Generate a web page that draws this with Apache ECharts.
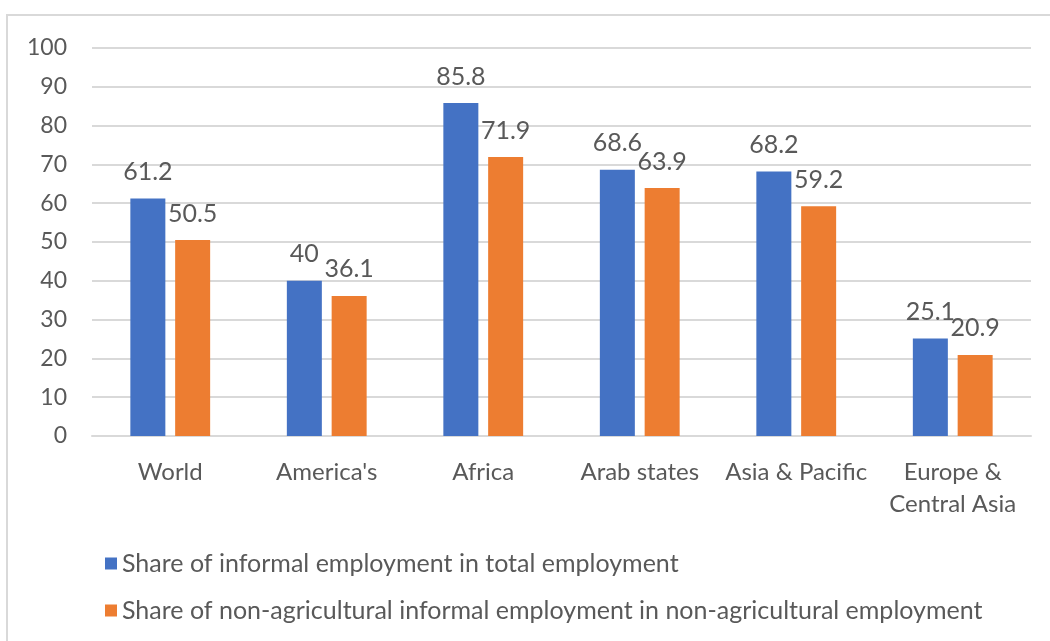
<!DOCTYPE html>
<html>
<head>
<meta charset="utf-8">
<script src="https://cdn.jsdelivr.net/npm/echarts@6/dist/echarts.min.js"></script>
<style>html,body{margin:0;padding:0;background:#fff;}#c{width:1050px;height:641px;}</style>
</head>
<body>
<div id="c"></div>
<script>
const categories = ["World", "America's", "Africa", "Arab states", "Asia & Pacific", "Europe &\nCentral Asia"];
const seriesNames = ["Share of informal employment in total employment", "Share of non-agricultural informal employment in non-agricultural employment"];
const totalShare = [61.2, 40, 85.8, 68.6, 68.2, 25.1];
const nonAgriShare = [50.5, 36.1, 71.9, 63.9, 59.2, 20.9];
const yTicks = [0, 10, 20, 30, 40, 50, 60, 70, 80, 90, 100];

const FONT = 'Lato, "Open Sans", sans-serif';
const TXT = '#595959';
const chart = echarts.init(document.getElementById('c'));
chart.setOption({
  animation: false,
  textStyle: { fontFamily: FONT },
  graphic: [{
    type: 'rect', shape: { x: 7, y: 15, width: 1200, height: 800 },
    style: { fill: 'none', stroke: '#d9d9d9', lineWidth: 2 }, silent: true, z: -1
  }],
  grid: { left: 92, right: 19, top: 48, bottom: 205, containLabel: false },
  legend: {
    orient: 'vertical', left: 100, top: 546,
    icon: 'rect', itemWidth: 12, itemHeight: 12, itemGap: 22,
    textStyle: { fontSize: 25, color: TXT, fontFamily: FONT },
    data: seriesNames
  },
  xAxis: {
    type: 'category', data: categories,
    axisLine: { lineStyle: { color: '#d9d9d9', width: 2 } },
    axisTick: { show: false },
    axisLabel: { fontSize: 24, color: TXT, margin: 20, lineHeight: 32, interval: 0, fontFamily: FONT }
  },
  yAxis: {
    type: 'value', min: yTicks[0], max: yTicks[yTicks.length - 1], interval: 10,
    axisLine: { show: false }, axisTick: { show: false },
    splitLine: { lineStyle: { color: '#d9d9d9', width: 2 } },
    axisLabel: { fontSize: 23, color: TXT, margin: 25, fontFamily: FONT }
  },
  series: [
    {
      name: seriesNames[0], type: 'bar', data: totalShare, barWidth: 35, barGap: '28%',
      itemStyle: { color: '#4472C4' },
      label: { show: true, position: 'top', distance: 14, fontSize: 25, color: TXT, fontFamily: FONT }
    },
    {
      name: seriesNames[1], type: 'bar', data: nonAgriShare, barWidth: 35,
      itemStyle: { color: '#ED7D31' },
      label: { show: true, position: 'top', distance: 14, fontSize: 25, color: TXT, fontFamily: FONT }
    }
  ]
});
</script>
</body>
</html>
